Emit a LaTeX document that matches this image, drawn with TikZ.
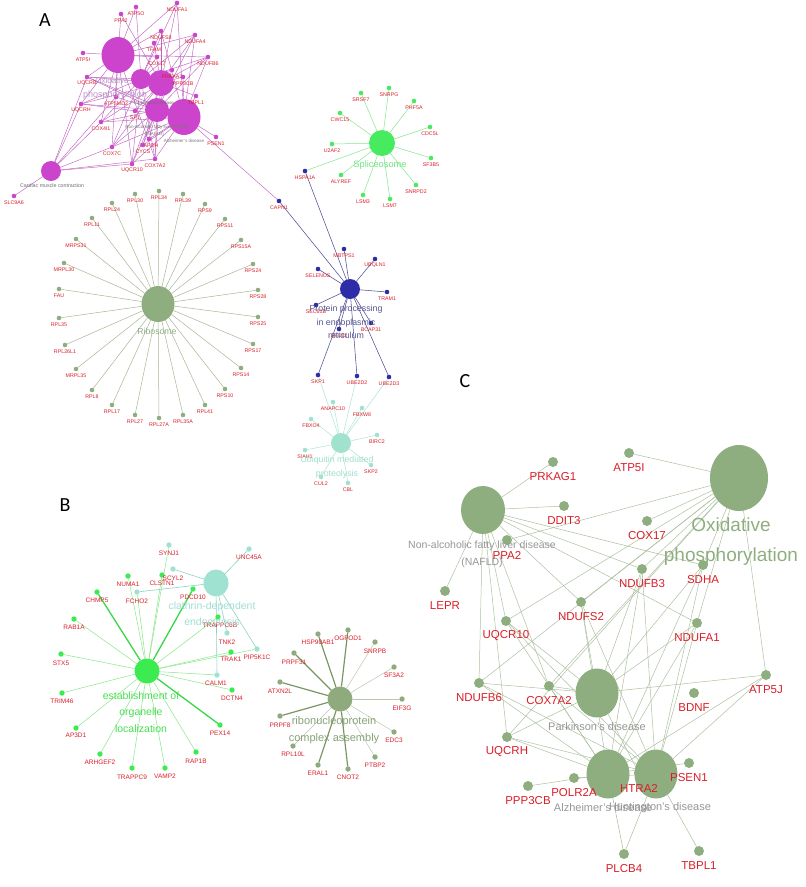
\documentclass[tikz,border=0pt]{standalone}
\usepackage{fontspec}
\setmainfont{Liberation Sans}
\newfontfamily\letterfont{Carlito}
\usetikzlibrary{shapes.geometric,backgrounds}
\definecolor{labred}{RGB}{218,30,40}
\definecolor{magf}{RGB}{204,68,204}
\definecolor{mage}{RGB}{192,100,192}
\definecolor{splf}{RGB}{70,235,95}
\definecolor{sple}{RGB}{130,230,140}
\definecolor{erf}{RGB}{45,45,170}
\definecolor{ere}{RGB}{80,80,150}
\definecolor{ubif}{RGB}{160,226,205}
\definecolor{ubie}{RGB}{175,232,215}
\definecolor{ribf}{RGB}{143,174,127}
\definecolor{ribe}{RGB}{168,182,148}
\definecolor{estf}{RGB}{60,235,80}
\definecolor{este}{RGB}{55,215,70}
\definecolor{estl}{RGB}{145,232,145}
\definecolor{claf}{RGB}{160,226,210}
\definecolor{clae}{RGB}{140,210,195}
\definecolor{rnpf}{RGB}{143,170,125}
\definecolor{rnpe}{RGB}{120,150,100}
\definecolor{rnpl}{RGB}{185,198,175}
\definecolor{cedge}{RGB}{172,192,160}
\definecolor{gtxt}{RGB}{150,150,150}
\tikzset{
  every node/.style={inner sep=0pt, outer sep=0pt},
  sdot/.style={circle, minimum size=4.6pt},
  bdot/.style={circle, minimum size=5.4pt},
  cdot/.style={circle, minimum size=10pt, fill=ribf},
  lblA/.style={text=labred, font=\fontsize{5.3}{6}\selectfont},
  lblB/.style={text=labred, font=\fontsize{6.5}{7}\selectfont},
  lblC/.style={text=labred, font=\fontsize{11.5}{12}\selectfont},
  ctxt/.style={align=center},
  letter/.style={font=\letterfont\fontsize{20}{22}\selectfont},
  medge/.style={draw=mage, line width=0.45pt},
  spedge/.style={draw=sple, line width=0.5pt},
  eredge/.style={draw=ere, line width=0.55pt},
  ubedge/.style={draw=ubie, line width=0.55pt},
  riedge/.style={draw=ribe, line width=0.5pt},
  esthick/.style={draw=este, line width=1.3pt},
  esthin/.style={draw=estl, line width=0.55pt},
  claedge/.style={draw=clae, line width=0.6pt},
  rnthick/.style={draw=rnpe, line width=1.2pt},
  rnthin/.style={draw=rnpl, line width=0.5pt},
  cedg/.style={draw=cedge, line width=0.5pt}
}
\begin{document}
\begin{tikzpicture}[x=1pt,y=-1pt]
\useasboundingbox (0,0) rectangle (806,887);

% ---------------- panel letters
\node[letter] (LA) at (45,20) {A};
\node[letter] (LB) at (65,505) {B};
\node[letter] (LC) at (465,381) {C};

% ---------------- Panel A: magenta cluster
\node[ellipse, fill=magf, minimum width=33pt, minimum height=36pt] (mc1) at (118,55) {};
\node[circle, fill=magf, minimum size=20pt] (mc2) at (141,79) {};
\node[circle, fill=magf, minimum size=26pt] (mc3) at (161,83) {};
\node[circle, fill=magf, minimum size=24pt] (mc4) at (157,110) {};
\node[ellipse, fill=magf, minimum width=33pt, minimum height=36pt] (mc5) at (184,117) {};
\node[circle, fill=magf, minimum size=20pt] (mc6) at (51,171) {};
\foreach \n/\x/\y in {PPA2/121/14, ATP5O/136/7, NDUFA1/177/3, NDUFS8/161/31, NDUFA4/195/35,
  TFAM/154/43, NDUFB6/208/57, COX17/157/57, ATP5I/83/53, PRKAA1/172/70, PPP3CB/183/77,
  UQCRB/87/77, TBPL1/196/96, UQCRH/81/104, ATP5MD2/116/97, COX4I1/101/122, SP1/135/111,
  PSEN1/216/137, GAPDH/149/139, CYCS/143/145, COX7C/112/147, COX7A2/155/159, UQCR10/132/164,
  SLC9A6/14/196}{
  \node[sdot, fill=magf] (m-\n) at (\x,\y) {};
  \node[lblA] (ml-\n) at (\x,\y+6.5) {\n};
}
\node[ctxt, text={rgb,255:red,190;green,150;blue,200}, font=\fontsize{8}{9}\selectfont] (tox) at (112,81) {Oxidative};
\node[ctxt, text={rgb,255:red,190;green,150;blue,200}, font=\fontsize{9}{10}\selectfont] (tox2) at (115,95) {phosphorylation};
\node[ctxt, text={rgb,255:red,110;green,110;blue,110}, font=\fontsize{4.5}{5}\selectfont] (tpd) at (154,103) {Parkinson's disease};
\node[ctxt, text={rgb,255:red,120;green,120;blue,120}, font=\fontsize{4.5}{5}\selectfont] (tna) at (157,127) {Non-alcoholic fatty liver disease};
\node[ctxt, text={rgb,255:red,120;green,120;blue,120}, font=\fontsize{4.5}{5}\selectfont] (tna2) at (155,134) {(NAFLD)};
\node[ctxt, text={rgb,255:red,120;green,120;blue,120}, font=\fontsize{4.5}{5}\selectfont] (tad) at (184,141) {Alzheimer's disease};
\node[ctxt, text={rgb,255:red,110;green,110;blue,110}, font=\fontsize{5.3}{6}\selectfont] (tcm) at (52,186) {Cardiac muscle contraction};

% ---------------- Panel A: Spliceosome
\node[circle, fill=splf, minimum size=26pt] (spl) at (382,143) {};
\foreach \n/\x/\y in {SRSF7/361/93, SNRPG/389/88, PHF5A/414/101, CDC5L/430/127, SF3B5/431/158,
  SNRPD2/416/185, LSM7/390/199, LSM3/363/195, ALYREF/341/175, U2AF2/332/144, CWC15/340/113}{
  \node[sdot, fill=splf] (s-\n) at (\x,\y) {};
  \node[lblA] (sl-\n) at (\x,\y+6.5) {\n};
}
\node[ctxt, text={rgb,255:red,110;green,228;blue,130}, font=\fontsize{9.3}{10}\selectfont] (tspl) at (380,165) {Spliceosome};

% ---------------- Panel A: ER processing
\node[circle, fill=erf, minimum size=20pt] (er) at (350,289) {};
\foreach \n/\x/\y in {HSPA1A/305/171, CAPN1/279/201, MBTPS1/344/249, UBQLN1/375/259, SELENOS/318/269,
  TRAM1/387/292, SEC61B/316/305, BCAP31/371/323, SEC62/339/329, SKP1/318/375, UBE2D2/357/376,
  UBE2D3/389/377}{
  \node[sdot, fill=erf] (e-\n) at (\x,\y) {};
  \node[lblA] (el-\n) at (\x,\y+6.5) {\n};
}
\node[ctxt, text={rgb,255:red,85;green,85;blue,145}, font=\fontsize{8.8}{13.5}\selectfont] (ter) at (346,322) {Protein processing\\in endoplasmic\\reticulum};

% ---------------- Panel A: Ubiquitin
\node[circle, fill=ubif, minimum size=20pt] (ubi) at (341,443) {};
\foreach \n/\x/\y in {ANAPC10/333/402, FBXW8/362/408, FBXO4/311/419, BIRC2/377/435, SIAH1/305/450,
  SKP2/371/465, CUL2/321/477, CBL/348/483}{
  \node[sdot, fill=ubif] (u-\n) at (\x,\y) {};
  \node[lblA] (ul-\n) at (\x,\y+6.5) {\n};
}
\node[ctxt, text={rgb,255:red,160;green,222;blue,205}, font=\fontsize{8.8}{13.5}\selectfont] (tubi) at (337,467) {Ubiquitin mediated\\proteolysis};

% ---------------- Panel A: Ribosome
\node[ellipse, fill=ribf, minimum width=33pt, minimum height=36pt] (rib) at (158,304) {};
\foreach \n/\x/\y in {RPL34/159/191, RPL30/135/194, RPL39/183/194, RPL24/112/203, RPS9/205/204,
  RPL11/92/218, RPS11/225/219, MRPS31/76/239, RPS15A/241/240, MRPL30/64/263, RPS24/253/264,
  FAU/59/289, RPS28/258/290, RPL35/59/318, RPS25/258/317, RPL26L1/65/345, RPS17/253/344,
  MRPL35/76/369, RPS14/241/368, RPL8/92/390, RPS10/225/389, RPL17/112/405, RPL41/205/405,
  RPL27/135/415, RPL27A/159/418, RPL35A/183/415}{
  \node[sdot, fill=ribf] (r-\n) at (\x,\y) {};
  \node[lblA] (rl-\n) at (\x,\y+6.8) {\n};
}
\node[ctxt, text=ribf, font=\fontsize{8.7}{9}\selectfont] (trib) at (157,331) {Ribosome};

% ---------------- Panel B: establishment / clathrin
\node[circle, fill=estf, minimum size=25pt] (est) at (147,671) {};
\node[ellipse, fill=claf, minimum width=25pt, minimum height=27pt] (cla) at (216,583) {};
\foreach \n/\x/\y in {NUMA1/128/576, CLSTN1/162/575, CHMP5/97/592, PDCD10/193/589, RAB1A/74/619,
  TRAPPC6B/218/617, STX5/61/654, TRAK1/231/652, DCTN4/232/690, TRIM46/62/693, PEX14/220/725,
  AP3D1/76/728, RAP1B/196/752, ARHGEF2/100/754, TRAPPC9/132/768, VAMP2/165/768}{
  \node[bdot, fill=estf] (b-\n) at (\x,\y) {};
}
\foreach \n/\x/\y in {SYNJ1/169/545, UNC45A/249/549, SCYL2/173/569, FCHO2/137/592, TNK2/227/633,
  PIP5K1C/257/649, CALM1/217/675}{
  \node[bdot, fill=claf] (b-\n) at (\x,\y) {};
}
\foreach \n/\x/\y in {NUMA1/128/584, CLSTN1/162/583, CHMP5/97/600, PDCD10/193/597, RAB1A/74/627,
  TRAPPC6B/220/625, STX5/61/663, TRAK1/231/659, DCTN4/232/698, TRIM46/62/701, PEX14/220/733,
  AP3D1/76/735, RAP1B/196/761, ARHGEF2/100/762, TRAPPC9/132/777, VAMP2/165/776,
  SYNJ1/169/553, UNC45A/249/557, SCYL2/173/578, FCHO2/137/601, TNK2/227/642,
  PIP5K1C/257/657, CALM1/216/683}{
  \node[lblB] (bl-\n) at (\x,\y) {\n};
}
\node[ctxt, text={rgb,255:red,70;green,222;blue,80}, font=\fontsize{10.5}{16.5}\selectfont] (test) at (141,712) {establishment of\\organelle\\localization};
\node[ctxt, text={rgb,255:red,160;green,222;blue,208}, font=\fontsize{10.5}{16}\selectfont] (tcla) at (212,615) {clathrin-dependent\\endocytosis};

% ---------------- Panel B: ribonucleoprotein
\node[circle, fill=rnpf, minimum size=25pt] (rnp) at (340,699) {};
\foreach \n/\x/\y/\ly in {HSP90AB1/318/634/642, OGFOD1/348/630/638, SNRPB/375/642/651, PRPF31/294/653/662,
  SF3A2/394/667/675, ATXN2L/280/682/691, EIF3G/402/699/708, PRPF8/280/716/725, EDC3/394/732/740,
  RPL10L/293/746/754, PTBP2/375/757/765, ERAL1/318/765/773, CNOT2/348/769/777}{
  \node[bdot, fill=rnpf] (n-\n) at (\x,\y) {};
  \node[lblB] (nl-\n) at (\x,\ly) {\n};
}
\node[ctxt, text={rgb,255:red,135;green,162;blue,118}, font=\fontsize{11}{16.5}\selectfont] (trnp) at (334,730) {ribonucleoprotein\\complex assembly};

% ---------------- Panel C
\node[ellipse, fill=ribf, minimum width=44pt, minimum height=48pt] (cNA) at (483,510) {};
\node[ellipse, fill=ribf, minimum width=58pt, minimum height=66pt] (cOX) at (739,478) {};
\node[ellipse, fill=ribf, minimum width=43pt, minimum height=49pt] (cPD) at (597,693) {};
\node[ellipse, fill=ribf, minimum width=43pt, minimum height=49pt] (cAD) at (608,774) {};
\node[ellipse, fill=ribf, minimum width=43pt, minimum height=49pt] (cHD) at (656,774) {};
\foreach \n/\x/\y in {PRKAG1/553/462, ATP5I/629/453, DDIT3/564/506, COX17/647/521, PPA2/507/540,
  NDUFB3/642/569, SDHA/703/565, LEPR/445/591, NDUFS2/581/602, UQCR10/506/621, NDUFA1/697/623,
  NDUFB6/479/683, COX7A2/549/686, ATP5J/766/675, BDNF/694/693, UQCRH/507/737, PSEN1/689/763,
  POLR2A/574/778, HTRA2/639/773, PPP3CB/528/786, PLCB4/624/854, TBPL1/699/851}{
  \node[cdot] (c-\n) at (\x,\y) {};
}
\node[ctxt, text=gtxt, font=\fontsize{10.5}{17}\selectfont] (tcNA) at (482,554) {Non-alcoholic fatty liver disease\\(NAFLD)};
\node[ctxt, text=gtxt, font=\fontsize{11}{12}\selectfont] (tcPD) at (597,727) {Parkinson's disease};
\node[ctxt, text=gtxt, font=\fontsize{11}{12}\selectfont] (tcAD) at (603,808) {Alzheimer's disease};
\node[ctxt, text=gtxt, font=\fontsize{11}{12}\selectfont] (tcHD) at (660,808) {Huntington's disease};
\foreach \n/\x/\y in {PRKAG1/553/462, ATP5I/629/453, DDIT3/564/506, COX17/647/521, PPA2/507/540,
  NDUFB3/642/569, SDHA/703/565, LEPR/445/591, NDUFS2/581/602, UQCR10/506/621, NDUFA1/697/623,
  NDUFB6/479/683, COX7A2/549/686, ATP5J/766/675, BDNF/694/693, UQCRH/507/737, PSEN1/689/763,
  POLR2A/574/778, HTRA2/639/773, PPP3CB/528/786, PLCB4/624/854, TBPL1/699/851}{
  \node[lblC] (cl-\n) at (\x,\y+15) {\n};
}
\node[ctxt, text=ribf, font=\fontsize{19}{30}\selectfont] (tcOX) at (731,542) {Oxidative\\phosphorylation};

% ---------------- edges
\begin{pgfonlayer}{background}
\foreach \n in {PPA2, ATP5O, NDUFA1, NDUFS8, NDUFA4, NDUFB6, COX17, ATP5I, UQCRB, UQCRH, ATP5MD2, COX4I1, COX7C, COX7A2, UQCR10}
  \draw[medge] (mc1) -- (m-\n);
\foreach \n in {NDUFA1, NDUFS8, NDUFA4, NDUFB6, COX17, UQCRB, UQCRH, COX4I1, COX7C, COX7A2, UQCR10, PRKAA1, ATP5O}
  \draw[medge] (mc2) -- (m-\n);
\foreach \n in {NDUFA1, NDUFS8, NDUFA4, NDUFB6, TFAM, UQCRB, UQCRH, COX4I1, COX7C, COX7A2, UQCR10, PPP3CB, SP1, TBPL1, CYCS, PPA2}
  \draw[medge] (mc3) -- (m-\n);
\foreach \n in {NDUFA4, NDUFB6, UQCRB, UQCRH, COX4I1, COX7C, COX7A2, UQCR10, PRKAA1, CYCS, GAPDH, ATP5MD2}
  \draw[medge] (mc4) -- (m-\n);
\foreach \n in {NDUFA1, NDUFS8, NDUFA4, NDUFB6, UQCRB, UQCRH, COX4I1, COX7C, COX7A2, UQCR10, PPP3CB, PSEN1, GAPDH, CYCS, TBPL1}
  \draw[medge] (mc5) -- (m-\n);
\foreach \n in {COX4I1, COX7C, COX7A2, UQCR10, UQCRB, UQCRH, SLC9A6, ATP5MD2}
  \draw[medge] (mc6) -- (m-\n);
\draw[medge] (mc5) -- (e-CAPN1);
\foreach \n in {SRSF7, SNRPG, PHF5A, CDC5L, SF3B5, SNRPD2, LSM7, LSM3, ALYREF, U2AF2, CWC15}
  \draw[spedge] (spl) -- (s-\n);
\draw[spedge] (spl) -- (e-HSPA1A);
\foreach \n in {HSPA1A, CAPN1, MBTPS1, UBQLN1, SELENOS, TRAM1, SEC61B, BCAP31, SEC62, SKP1, UBE2D2, UBE2D3}
  \draw[eredge] (er) -- (e-\n);
\foreach \n in {ANAPC10, FBXW8, FBXO4, BIRC2, SIAH1, SKP2, CUL2, CBL}
  \draw[ubedge] (ubi) -- (u-\n);
\foreach \n in {SKP1, UBE2D2, UBE2D3}
  \draw[ubedge] (ubi) -- (e-\n);
\foreach \n in {RPL34, RPL30, RPL39, RPL24, RPS9, RPL11, RPS11, MRPS31, RPS15A, MRPL30, RPS24, FAU, RPS28, RPL35, RPS25, RPL26L1, RPS17, MRPL35, RPS14, RPL8, RPS10, RPL17, RPL41, RPL27, RPL27A, RPL35A}
  \draw[riedge] (rib) -- (r-\n);
% panel B
\foreach \n in {CHMP5, PDCD10, PEX14}
  \draw[esthick] (est) -- (b-\n);
\foreach \n in {NUMA1, CLSTN1, RAB1A, TRAPPC6B, STX5, TRAK1, DCTN4, TRIM46, AP3D1, RAP1B, ARHGEF2, TRAPPC9, VAMP2, SYNJ1, FCHO2, PIP5K1C, CALM1}
  \draw[esthin] (est) -- (b-\n);
\foreach \n in {UNC45A, SCYL2, FCHO2, TNK2, PIP5K1C, CALM1}
  \draw[claedge] (cla) -- (b-\n);
\foreach \n in {HSP90AB1, OGFOD1, PRPF31, ATXN2L, PRPF8, ERAL1, CNOT2}
  \draw[rnthick] (rnp) -- (n-\n);
\foreach \n in {SNRPB, SF3A2, EIF3G, EDC3, PTBP2, RPL10L}
  \draw[rnthin] (rnp) -- (n-\n);
% panel C
\foreach \n in {ATP5I, COX17, NDUFB3, SDHA, NDUFS2, UQCR10, NDUFA1, NDUFB6, COX7A2, ATP5J, UQCRH, PPA2}
  \draw[cedg] (cOX) -- (c-\n);
\foreach \n in {PRKAG1, DDIT3, LEPR, NDUFB3, NDUFS2, UQCR10, NDUFA1, NDUFB6, COX7A2, UQCRH, SDHA}
  \draw[cedg] (cNA) -- (c-\n);
\foreach \n in {NDUFB3, SDHA, NDUFS2, UQCR10, NDUFA1, NDUFB6, COX7A2, ATP5J, UQCRH, HTRA2}
  \draw[cedg] (cPD) -- (c-\n);
\foreach \n in {NDUFB3, SDHA, NDUFS2, UQCR10, NDUFA1, NDUFB6, COX7A2, ATP5J, UQCRH, PSEN1, PLCB4, PPP3CB}
  \draw[cedg] (cAD) -- (c-\n);
\foreach \n in {NDUFB3, SDHA, NDUFS2, UQCR10, NDUFA1, NDUFB6, COX7A2, ATP5J, UQCRH, POLR2A, PLCB4, TBPL1, HTRA2}
  \draw[cedg] (cHD) -- (c-\n);
\end{pgfonlayer}
\end{tikzpicture}
\end{document}
